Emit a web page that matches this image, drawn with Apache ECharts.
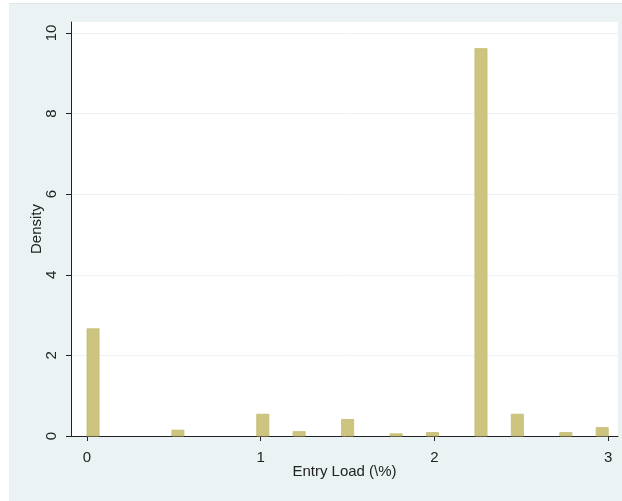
<!DOCTYPE html>
<html>
<head>
<meta charset="utf-8">
<script src="https://cdn.jsdelivr.net/npm/echarts@6/dist/echarts.min.js"></script>
<style>
  html, body { margin: 0; padding: 0; background: #ffffff; }
  #bg { position: absolute; left: 9px; top: 3px; width: 613px; height: 498px; background: #EAF2F3; border-top: 1px solid #dfe7e9; box-sizing: border-box; }
  #chart { position: absolute; left: 0; top: 0; width: 622px; height: 501px; }
</style>
</head>
<body>
<div id="bg"></div>
<div id="chart"></div>
<script>
// Entry load values (%) observed and their histogram density
const entryLoad = [0, 0.5, 1, 1.25, 1.5, 1.75, 2, 2.25, 2.5, 2.75, 3];
const density   = [2.66, 0.145, 0.54, 0.11, 0.41, 0.055, 0.087, 9.61, 0.54, 0.087, 0.21];
const xTicks = [0, 1, 2, 3];
const yTicks = [0, 2, 4, 6, 8, 10];
const nBins = 43;
const rangeMin = 0, rangeMax = 3;

const binW = (rangeMax - rangeMin) / nBins;
const barData = entryLoad.map((v, i) => {
  const b = Math.min(Math.floor((v - rangeMin) / binW), nBins - 1);
  const start = rangeMin + b * binW;
  return [start, start + binW, density[i]];
});

const FONT = '"Liberation Sans Narrow", "Arial Narrow", "Liberation Sans", Arial, sans-serif';
const chart = echarts.init(document.getElementById('chart'), null, { renderer: 'canvas' });
chart.setOption({
  backgroundColor: 'transparent',
  animation: false,
  grid: { left: 71, right: 4, top: 22, bottom: 65, show: true, backgroundColor: '#ffffff', borderWidth: 0 },
  xAxis: {
    type: 'value', min: -0.092, max: 3.056,
    name: 'Entry Load (\\%)', nameLocation: 'middle', nameGap: 28, nameMoveOverlap: false,
    nameTextStyle: { fontFamily: FONT, fontSize: 15, color: '#222' },
    axisLine: { show: true, onZero: false, lineStyle: { color: '#222', width: 1 } },
    axisTick: { show: true, length: 5, customValues: xTicks, lineStyle: { color: '#222' } },
    axisLabel: { customValues: xTicks, margin: 14, fontFamily: FONT, fontSize: 15, color: '#222' },
    splitLine: { show: false }
  },
  yAxis: {
    type: 'value', min: 0, max: 10.27,
    name: 'Density', nameLocation: 'middle', nameGap: 27, nameRotate: 90, nameMoveOverlap: false,
    nameTextStyle: { fontFamily: FONT, fontSize: 15, color: '#222' },
    axisLine: { show: true, onZero: false, lineStyle: { color: '#222', width: 1 } },
    axisTick: { show: true, length: 5, customValues: yTicks, lineStyle: { color: '#222' } },
    axisLabel: { customValues: yTicks, rotate: 90, margin: 12, fontFamily: FONT, fontSize: 15, color: '#222' },
    splitLine: { show: true, lineStyle: { color: '#EAF2F3', width: 1 } }
  },
  series: [{
    type: 'custom',
    data: barData,
    encode: { x: [0, 1], y: 2 },
    renderItem: function (params, api) {
      const p0 = api.coord([api.value(0), api.value(2)]);
      const p1 = api.coord([api.value(1), 0]);
      return {
        type: 'rect',
        shape: { x: p0[0], y: p0[1], width: p1[0] - p0[0], height: p1[1] - p0[1] },
        style: { fill: '#CDC57F', stroke: '#C4BC74', lineWidth: 0.8 }
      };
    }
  }]
});
</script>
</body>
</html>
